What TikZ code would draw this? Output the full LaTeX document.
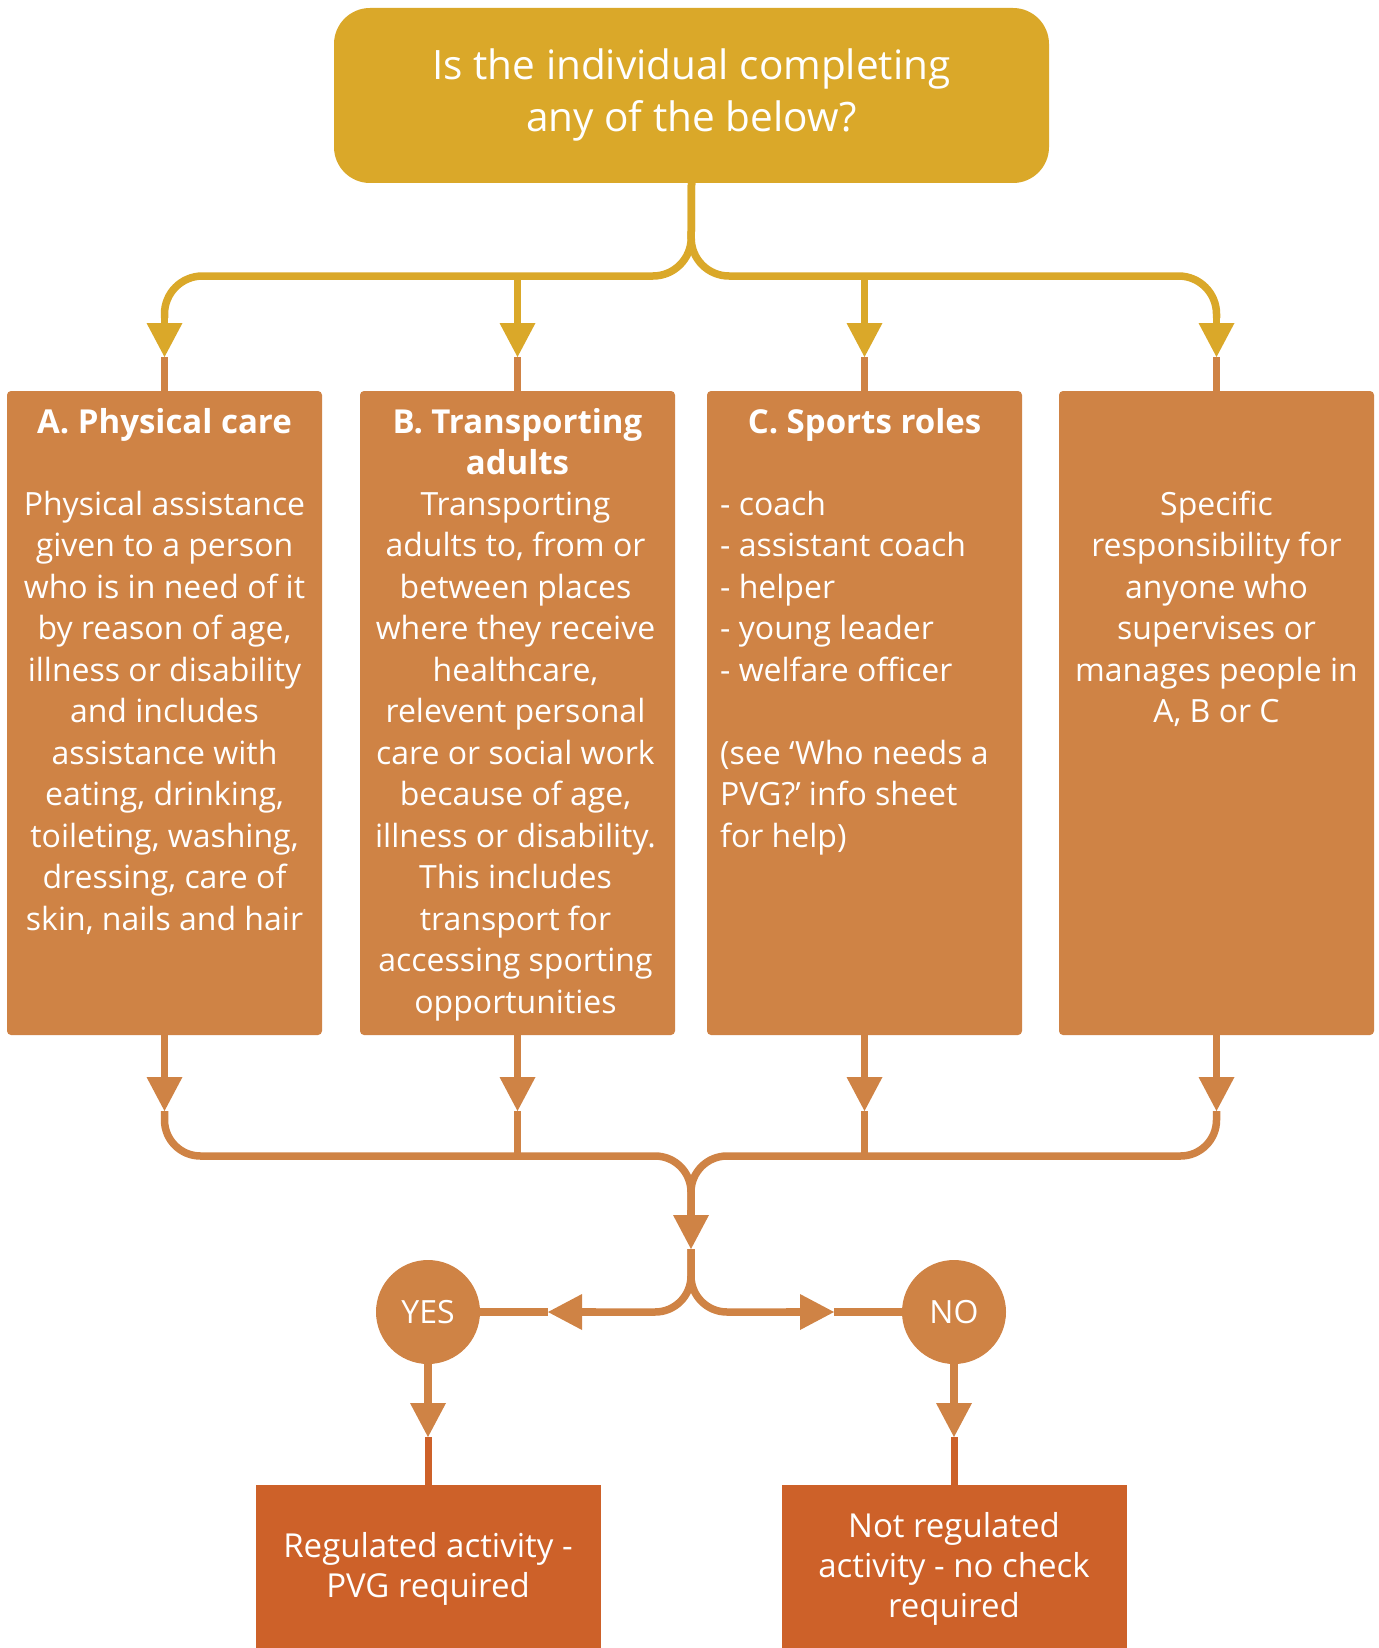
\documentclass[tikz,border=0pt]{standalone}
\usepackage{fontspec}
\setmainfont{Open Sans}
\usetikzlibrary{arrows.meta}
\definecolor{gold}{HTML}{DAA829}
\definecolor{boxor}{HTML}{CF8345}
\definecolor{darkor}{HTML}{CD6129}
\begin{document}
\begin{tikzpicture}[x=1pt,y=-1pt,
  box/.style={fill=boxor, rounded corners=4pt, minimum width=315pt, minimum height=644pt, inner sep=0pt},
  resbox/.style={fill=darkor, minimum width=345pt, minimum height=163pt, inner sep=0pt},
  circ/.style={circle, fill=boxor, minimum size=104pt, inner sep=0pt, text=white, font=\fontsize{32}{40}\selectfont},
  body/.style={text=white, inner sep=0pt, anchor=north, font=\fontsize{32}{41.5}\selectfont},
  head/.style={text=white, inner sep=0pt, anchor=north, align=center, font=\bfseries\fontsize{33}{41.5}\selectfont},
  goldln/.style={draw=gold, line width=7.5pt, rounded corners=38pt},
  orln/.style={draw=boxor, line width=7.5pt, rounded corners=36pt},
  darkln/.style={draw=darkor, line width=7pt},
  goldtip/.style={draw=gold, line width=7.5pt, -{Triangle[length=34pt,width=36pt,line width=0pt]}},
  ortip/.style={draw=boxor, line width=7.5pt, -{Triangle[length=34pt,width=36pt,line width=0pt]}},
]
\useasboundingbox (0,0) rectangle (1378,1648);

% top question
\node[fill=gold, rounded corners=36pt, minimum width=715pt, minimum height=175pt, inner sep=0pt] (q) at (691.5,95.5) {};
\node[text=white, inner sep=0pt, anchor=north, align=center, font=\fontsize{40.5}{52}\selectfont] (qt) at (691.5,42.6)
  {\strut Is the individual completing\\any of the below?};

% four boxes
\node[box] (A) at (164.5,713) {};
\node[box] (B) at (517.5,713) {};
\node[box] (C) at (864.5,713) {};
\node[box] (D) at (1216.5,713) {};

\node[head] (Ah) at (164.5,404) {\strut A. Physical care};
\node[head] (Bh) at (517.5,404) {\strut B. Transporting\\adults};
\node[head] (Ch) at (864.5,404) {\strut C. Sports roles};

\node[body, align=center] (Ab) at (164.5,486) {\strut Physical assistance\\given to a person\\who is in need of it\\by reason of age,\\illness or disability\\and includes\\assistance with\\eating, drinking,\\toileting, washing,\\dressing, care of\\skin, nails and hair};
\node[body, align=center] (Bb) at (515.5,486) {\strut Transporting\\adults to, from or\\between places\\where they receive\\healthcare,\\relevent personal\\care or social work\\because of age,\\illness or disability.\\This includes\\transport for\\accessing sporting\\opportunities};
\node[body, align=left, anchor=north west] (Cb) at (720,486) {\strut - coach\\- assistant coach\\- helper\\- young leader\\- welfare officer\\[41.5pt](see ‘Who needs a\\PVG?’ info sheet\\for help)};
\node[body, align=center] (Db) at (1216.5,486) {\strut Specific\\responsibility for\\anyone who\\supervises or\\manages people in\\A, B or C};

% junction coordinates
\coordinate (jt) at (691,276);
\coordinate (Ain) at (164.5,357);  \coordinate (Abase) at (164.5,318);
\coordinate (Bin) at (517.5,357);  \coordinate (Bbase) at (517.5,318);
\coordinate (Cin) at (864.5,357);  \coordinate (Cbase) at (864.5,318);
\coordinate (Din) at (1216.5,357); \coordinate (Dbase) at (1216.5,318);
\coordinate (Bjt) at (517.5,276);  \coordinate (Cjt) at (864.5,276);
\coordinate (Aout) at (164.5,1111);
\coordinate (Bout) at (517.5,1111);
\coordinate (Cout) at (864.5,1111);
\coordinate (Dout) at (1216.5,1111);
\coordinate (Bjn) at (517.5,1156);
\coordinate (Cjn) at (864.5,1156);
\coordinate (jb) at (691,1156);
\coordinate (cbase) at (691,1210);
\coordinate (cT) at (691,1249);
\coordinate (ybase) at (596,1312);
\coordinate (yT) at (548,1312);
\coordinate (nbase) at (786,1312);
\coordinate (nT) at (834,1312);

% top connectors
\draw[goldln] (q.south) -- (jt) -| (Abase);
\draw[goldln] (q.south) -- (jt) -| (Dbase);
\draw[goldln] (Bjt) -- (Bbase);
\draw[goldln] (Cjt) -- (Cbase);
\draw[orln] (Ain) -- (A.north);
\draw[orln] (Bin) -- (B.north);
\draw[orln] (Cin) -- (C.north);
\draw[orln] (Din) -- (D.north);
\draw[goldtip] (Abase) -- (Ain);
\draw[goldtip] (Bbase) -- (Bin);
\draw[goldtip] (Cbase) -- (Cin);
\draw[goldtip] (Dbase) -- (Din);

% bottom connectors
\draw[ortip] (A.south) -- (Aout);
\draw[ortip] (B.south) -- (Bout);
\draw[ortip] (C.south) -- (Cout);
\draw[ortip] (D.south) -- (Dout);
\draw[orln] (Aout) |- (jb) -- (cbase);
\draw[orln] (Dout) |- (jb) -- (cbase);
\draw[orln] (Bout) -- (Bjn);
\draw[orln] (Cout) -- (Cjn);
\draw[ortip] (cbase) -- (cT);

% yes / no
\node[circ] (YES) at (428,1312) {YES};
\node[circ] (NO) at (954,1312) {NO};
\draw[orln] (cT) |- (ybase);
\draw[orln] (cT) |- (nbase);
\draw[orln] (yT) -- (YES.east);
\draw[orln] (nT) -- (NO.west);
\draw[ortip] (ybase) -- (yT);
\draw[ortip] (nbase) -- (nT);

% results
\node[resbox] (RY) at (428,1566.5) {};
\node[resbox] (RN) at (954,1566.5) {};
\coordinate (ydT) at (428,1437);
\coordinate (ndT) at (954,1437);
\draw[darkln] (ydT) -- (RY.north);
\draw[darkln] (ndT) -- (RN.north);
\draw[ortip] (YES.south) -- (ydT);
\draw[ortip] (NO.south) -- (ndT);
\node[body, align=center, font=\fontsize{33}{40}\selectfont] (RYt) at (428,1529) {\strut Regulated activity -\\PVG required};
\node[body, align=center, font=\fontsize{33}{40}\selectfont] (RNt) at (954,1509) {\strut Not regulated\\activity - no check\\required};
\end{tikzpicture}
\end{document}
